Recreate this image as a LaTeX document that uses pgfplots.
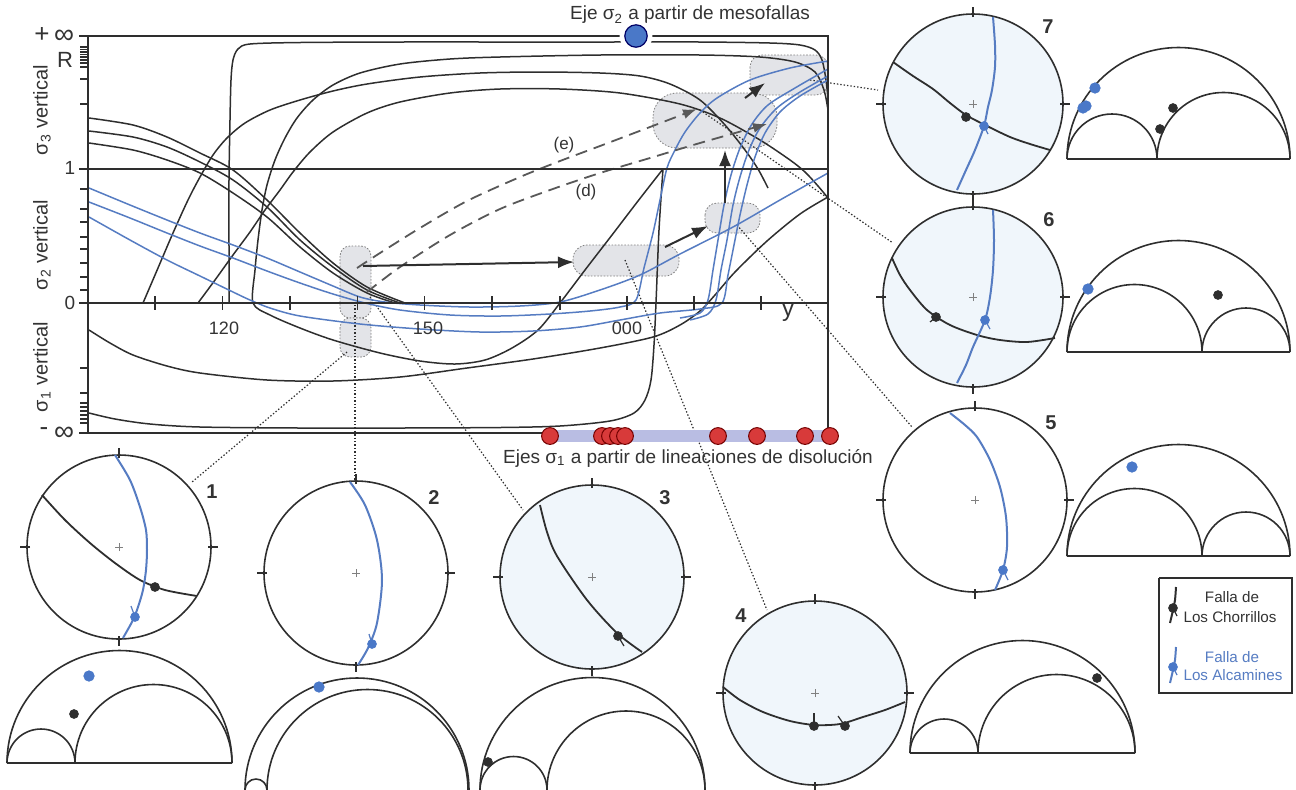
\documentclass[border=0pt]{standalone}
\usepackage{pgfplots}
\pgfplotsset{compat=1.18}
\usepackage{fontspec}
\setmainfont{Liberation Sans}
\usetikzlibrary{arrows.meta}
\definecolor{bc}{HTML}{567CC2}
\definecolor{kc}{HTML}{2E2E2E}
\definecolor{txc}{HTML}{333333}
\definecolor{boxc}{HTML}{E3E4E8}
\definecolor{netc}{HTML}{F0F6FB}
\definecolor{redc}{HTML}{D83A3A}
\definecolor{bandc}{HTML}{B9BDE3}
\definecolor{dotb}{HTML}{4A78C8}

\newcommand{\net}[4]{%
 \draw[kc, line width=0.8pt, fill=#4] (axis cs:#1,#2) circle[radius=#3pt];
 \draw[kc, line width=0.6pt] (axis cs:#1,#2) ++(0pt,#3pt-1.5pt) -- ++(0pt,5pt);
 \draw[kc, line width=0.6pt] (axis cs:#1,#2) ++(0pt,-#3pt+1.5pt) -- ++(0pt,-5pt);
 \draw[kc, line width=0.6pt] (axis cs:#1,#2) ++(#3pt-1.5pt,0pt) -- ++(5pt,0pt);
 \draw[kc, line width=0.6pt] (axis cs:#1,#2) ++(-#3pt+1.5pt,0pt) -- ++(-5pt,0pt);
 \draw[gray, line width=0.4pt] (axis cs:#1,#2) ++(-2pt,0pt) -- ++(4pt,0pt);
 \draw[gray, line width=0.4pt] (axis cs:#1,#2) ++(0pt,-2pt) -- ++(0pt,4pt);
}
\newcommand{\semi}[3]{% left x, base y, radius pt
 \draw[kc, line width=0.8pt] (axis cs:#1,#2) arc[start angle=180, end angle=0, radius=#3pt];
}

\begin{document}
\begin{tikzpicture}
\begin{axis}[
  scale only axis, width=648pt, height=394.5pt,
  xmin=0, xmax=1296, ymin=0, ymax=789, y dir=reverse,
  hide axis, clip=true,
  kl/.style={kc, line width=0.75pt, smooth, tension=0.5},
  bl/.style={bc, line width=0.75pt, smooth, tension=0.5},
  dl/.style={kc, line width=0.6pt, dash pattern=on 0.7pt off 1pt},
]
% bounding box
\addplot[draw=none] coordinates {(0,0) (1296,789)};

% grey boxes
\draw[gray, fill=boxc, dash pattern=on 0.8pt off 0.8pt, rounded corners=5pt] (axis cs:340,246) rectangle (axis cs:371,318);
\draw[gray, fill=boxc, dash pattern=on 0.8pt off 0.8pt, rounded corners=5pt] (axis cs:340,318) rectangle (axis cs:371,357);
\draw[gray, fill=boxc, dash pattern=on 0.8pt off 0.8pt, rounded corners=7pt] (axis cs:573,245) rectangle (axis cs:679,276);
\draw[gray, fill=boxc, dash pattern=on 0.8pt off 0.8pt, rounded corners=6pt] (axis cs:705,203) rectangle (axis cs:760,233);
\draw[gray, fill=boxc, dash pattern=on 0.8pt off 0.8pt, rounded corners=12pt] (axis cs:653,93) rectangle (axis cs:777,148);
\draw[gray, fill=boxc, dash pattern=on 0.8pt off 0.8pt, rounded corners=6pt] (axis cs:750,55) rectangle (axis cs:828,95);

% dotted connectors
\addplot[dl] coordinates {(347,352) (192,482)};
\addplot[dl] coordinates {(355,305) (355,482)};
\addplot[dl] coordinates {(370,297) (523,510)};
\addplot[dl] coordinates {(625,260) (767,610)};
\addplot[dl] coordinates {(737,225) (912,427)};
\addplot[dl] coordinates {(700,110) (893,243)};
\addplot[dl] coordinates {(810,80) (878,90)};

% black curves
\addplot[kl] coordinates {(229,303)(229,250)(229,180)(230,120)(231,80)(233,60)(238,49)(250,44)(300,42.5)(400,42)(500,42)(600,42)(700,42)(770,43)(800,45)(815,50)(822,60)(826,80)(828,100)};
\addplot[kl] coordinates {(143,303)(158,268)(173,233)(188,200)(200,177)(213,155)(227,138)(245,123)(270,110)(300,100)(333,91)(367,84)(420,77)(480,73)(540,72)(600,73)(640,76)(670,84)(700,100)(725,125)(745,150)(758,169)(768,188)};
\addplot[kl] coordinates {(198,303)(215,280)(233,255)(250,232)(265,210)(280,190)(293,172)(310,152)(333,132)(367,113)(400,102)(450,93)(500,89)(560,89)(620,93)(680,104)(720,118)(760,140)(790,160)(805,172)(818,186)(828,198)};
\addplot[kl] coordinates {(828,110)(824,90)(815,72)(795,62)(760,57)(700,55)(600,55)(500,57)(450,59)(400,64)(360,73)(333,85)(313,100)(297,118)(285,138)(275,160)(267,185)(262,210)(258,240)(255,270)(253,303)(270,315)(300,328)(333,340)(380,353)(420,361)(455,364)(485,360)(512,348)(538,330)(560,303)(585,270)(612,235)(638,201)(663,169)};
\addplot[kl] coordinates {(663,169)(659,230)(656,303)(654,345)(651,380)(645,400)(634,413)(610,421)(560,426)(500,427.5)(400,428)(300,428)(200,427)(150,424)(115,419)(89,413)};
\addplot[kl] coordinates {(89,330)(110,343)(133,355)(167,366)(200,373)(267,380)(333,381)(400,377)(467,368)(533,359)(600,348)(653,337)(680,325)(700,311)(715,295)(735,272)(767,241)(800,214)(828,197)};
\addplot[kl] coordinates {(89,118)(133,125)(167,137)(200,153)(233,170)(267,200)(300,233)(333,263)(367,287)(405,303)};
\addplot[kl] coordinates {(89,131)(133,137)(167,147)(200,162)(233,180)(267,207)(300,240)(333,267)(367,290)(400,303)};
\addplot[kl] coordinates {(89,143)(133,150)(167,160)(200,173)(233,193)(267,217)(300,247)(333,273)(367,293)(395,303)};

% blue curves
\addplot[bl] coordinates {(89,188)(130,205)(167,220)(200,233)(233,245)(267,258)(300,272)(333,286)(360,297)(385,302)(420,305)(470,307)(520,306)(560,302)(600,290)(640,275)(680,254)(733,227)(780,200)(828,173)};
\addplot[bl] coordinates {(89,202)(130,218)(167,233)(200,246)(233,258)(267,271)(300,283)(333,294)(365,303)(400,310)(450,315)(500,316)(550,314)(590,311)(620,307)(636,300)(644,268)(653,233)(660,200)(667,168)(675,150)(685,132)(700,113)(717,98)(750,80)(790,68)(828,61)};
\addplot[bl] coordinates {(89,217)(130,240)(167,260)(200,276)(233,292)(250,300)(270,308)(300,316)(360,324)(420,329)(480,332)(533,331)(580,327)(620,320)(660,313)(700,309)(722,303)(728,275)(734,245)(740,215)(747,185)(755,157)(765,133)(780,112)(800,96)(828,80)};
\addplot[bl] coordinates {(680,318)(700,313)(708,300)(713,270)(718,240)(724,205)(731,175)(740,148)(752,124)(768,105)(795,88)(828,69)};
\addplot[bl] coordinates {(690,320)(708,314)(716,300)(721,270)(727,240)(733,205)(740,177)(749,150)(760,128)(777,108)(800,92)(828,76)};

% dashed (e) and (d)
\addplot[kc!80, line width=0.9pt, dash pattern=on 6pt off 3.5pt, smooth, -{Latex[length=7pt,width=5pt]}] coordinates {(357,268)(380,253)(420,228)(467,201)(520,177)(560,161)(600,146)(650,127)(697,109)};
\addplot[kc!80, line width=0.9pt, dash pattern=on 6pt off 3.5pt, smooth, -{Latex[length=7pt,width=5pt]}] coordinates {(367,292)(400,267)(450,235)(500,209)(550,190)(600,173)(650,158)(700,143)(767,124)};

% solid arrows
\addplot[kc, line width=1pt, -{Latex[length=8pt,width=6pt]}] coordinates {(363,266)(574,262)};
\addplot[kc, line width=1pt, -{Latex[length=8pt,width=6pt]}] coordinates {(665,247)(708,226)};
\addplot[kc, line width=1pt, -{Latex[length=8pt,width=6pt]}] coordinates {(725,203)(725,150)};
\addplot[kc, line width=1pt, -{Latex[length=8pt,width=6pt]}] coordinates {(745,98)(765,83)};

% frame and reference lines
\addplot[kc, line width=1.3pt] coordinates {(88,433)(88,36)(828,36)(828,433)(88,433)};
\addplot[kc, line width=1pt] coordinates {(88,169)(828,169)};
\addplot[kc, line width=1.1pt] coordinates {(88,303)(828,303)};
% left ticks
\addplot[kc, line width=0.7pt, unbounded coords=jump] coordinates {
(79,36)(88,36)(88,nan)(80,47)(88,47)(88,nan)(80,49.5)(88,49.5)(88,nan)(80,52)(88,52)(88,nan)(80,54.5)(88,54.5)(88,nan)
(80,57)(88,57)(88,nan)(80,60)(88,60)(88,nan)(80,63)(88,63)(88,nan)(80,67)(88,67)(88,nan)(80,79)(88,79)(88,nan)(80,104)(88,104)(88,nan)
(79,169)(88,169)(88,nan)(80,189)(88,189)(88,nan)(80,209)(88,209)(88,nan)(80,222)(88,222)(88,nan)(80,237)(88,237)(88,nan)
(80,249)(88,249)(88,nan)(80,263)(88,263)(88,nan)(80,277)(88,277)(88,nan)(80,290)(88,290)(88,nan)(79,303)(88,303)(88,nan)
(80,368)(88,368)(88,nan)(80,393)(88,393)(88,nan)(80,403)(88,403)(88,nan)(80,407)(88,407)(88,nan)(80,411)(88,411)(88,nan)
(80,415)(88,415)(88,nan)(80,419)(88,419)(88,nan)(80,423)(88,423)(88,nan)(79,433)(88,433)};
% x ticks
\addplot[kc, line width=0.9pt, unbounded coords=jump] coordinates {
(155,296)(155,310)(155,nan)(222.5,296)(222.5,310)(222.5,nan)(290,296)(290,310)(290,nan)(357.5,296)(357.5,310)(357.5,nan)
(424.5,296)(424.5,310)(424.5,nan)(492,296)(492,310)(492,nan)(560,296)(560,310)(560,nan)(627,296)(627,310)(627,nan)
(694,296)(694,310)(694,nan)(761,296)(761,310)};

% band and red dots
\addplot[bandc, line width=6pt] coordinates {(550,436)(830,436)};
\addplot[only marks, mark=*, mark size=4.2pt, mark options={fill=redc, draw=red!45!black, line width=0.5pt}] coordinates {(550,436)(602,436)(610,436)(618,436)(625,436)(718,436)(757,436)(805,436)(830,436)};
% blue dot at top
\addplot[only marks, mark=*, mark size=8pt, mark options={fill=white, draw=white}] coordinates {(636,36)};
\addplot[only marks, mark=*, mark size=5.6pt, mark options={fill=dotb, draw=blue!40!black, line width=0.6pt}] coordinates {(636,36)};

% ===== stereonets =====
\net{119}{547}{46}{white}
\net{356}{573}{46}{white}
\net{592}{577}{46}{netc}
\net{815}{693}{46}{netc}
\net{975}{500}{46}{white}
\net{973}{297}{45}{netc}
\net{973}{104}{45}{netc}

% net 1
\addplot[kl, line width=0.9pt] coordinates {(42,495)(65,520)(90,543)(115,563)(140,580)(165,590)(197,596)};
\addplot[bl, line width=1pt] coordinates {(115,455)(130,480)(140,507)(146,530)(147,550)(146,570)(143,590)(138,607)(133,620)(123,638)};
\addplot[kc, line width=0.6pt] coordinates {(150,584)(155,590)};
\addplot[bc, line width=0.6pt] coordinates {(131,606)(135,617)};
\addplot[only marks, mark=*, mark size=2.2pt, kc] coordinates {(155,587)};
\addplot[only marks, mark=*, mark size=2.2pt, dotb] coordinates {(135,617)};
% net 2
\addplot[bl, line width=1pt] coordinates {(350,482)(365,505)(377,540)(382,580)(377,623)(368,648)(358,665)};
\addplot[bc, line width=0.6pt] coordinates {(369,634)(372,644)};
\addplot[only marks, mark=*, mark size=2.2pt, dotb] coordinates {(372,644)};
% net 3
\addplot[kl, line width=0.9pt] coordinates {(540,505)(547,532)(557,556)(587,600)(617,633)(642,652)};
\addplot[kc, line width=0.6pt] coordinates {(618,636)(624,646)};
\addplot[only marks, mark=*, mark size=2.2pt, kc] coordinates {(618,636)};
% net 4
\addplot[kl, line width=0.9pt] coordinates {(723,687)(740,700)(763,712)(790,721)(815,725)(840,724)(863,717)(885,710)(905,702)};
\addplot[kc, line width=0.6pt] coordinates {(814,713)(814,726)};
\addplot[kc, line width=0.6pt] coordinates {(838,716)(845,726)};
\addplot[only marks, mark=*, mark size=2.2pt, kc] coordinates {(814,726)(845,726)};
% net 5
\addplot[bl, line width=1pt] coordinates {(950,413)(965,425)(977,437)(990,460)(1000,487)(1006,517)(1007,547)(1003,570)(995,590)};
\addplot[bc, line width=0.6pt] coordinates {(1003,570)(1008,580)};
\addplot[only marks, mark=*, mark size=2.2pt, dotb] coordinates {(1003,570)};
% net 6
\addplot[kl, line width=0.9pt] coordinates {(892,258)(900,275)(910,290)(927,310)(950,325)(977,335)(1000,340)(1027,342)(1055,338)};
\addplot[bl, line width=1pt] coordinates {(993,210)(994,240)(993,270)(990,297)(985,320)(973,347)(966,365)(957,383)};
\addplot[kc, line width=0.6pt] coordinates {(930,322)(936,317)};
\addplot[bc, line width=0.6pt] coordinates {(985,320)(990,329)};
\addplot[only marks, mark=*, mark size=2.2pt, kc] coordinates {(936,317)};
\addplot[only marks, mark=*, mark size=2.2pt, dotb] coordinates {(985,320)};
% net 7
\addplot[kl, line width=0.9pt] coordinates {(893,62)(913,76)(933,89)(950,103)(966,115)(985,125)(1010,137)(1030,144)(1050,150)};
\addplot[bl, line width=1pt] coordinates {(993,17)(995,45)(995,67)(992,90)(988,107)(984,126)(975,150)(966,170)(957,190)};
\addplot[bc, line width=0.6pt] coordinates {(984,126)(988,134)};
\addplot[only marks, mark=*, mark size=2.2pt, kc] coordinates {(966,117)};
\addplot[only marks, mark=*, mark size=2.2pt, dotb] coordinates {(984,126)};

% ===== Mohr diagrams =====
% 7
\addplot[kc, line width=0.8pt] coordinates {(1067,159)(1290,159)};
\semi{1067}{159}{55.75}\semi{1067}{159}{22.5}\semi{1157}{159}{33.25}
\addplot[only marks, mark=*, mark size=2.6pt, dotb] coordinates {(1095,88)(1083,108)(1086,106)};
\addplot[only marks, mark=*, mark size=2.2pt, kc] coordinates {(1173,108)(1160,129)};
% 6
\addplot[kc, line width=0.8pt] coordinates {(1067,352)(1290,352)};
\semi{1067}{352}{55.75}\semi{1067}{352}{33.75}\semi{1202}{352}{22}
\addplot[only marks, mark=*, mark size=2.6pt, dotb] coordinates {(1088,289)};
\addplot[only marks, mark=*, mark size=2.2pt, kc] coordinates {(1218,295)};
% 5
\addplot[kc, line width=0.8pt] coordinates {(1067,556)(1290,556)};
\semi{1067}{556}{55.75}\semi{1067}{556}{33.75}\semi{1202}{556}{22}
\addplot[only marks, mark=*, mark size=2.6pt, dotb] coordinates {(1132,467)};
% 4
\addplot[kc, line width=0.8pt] coordinates {(910,753)(1135,753)};
\semi{910}{753}{56.25}\semi{910}{753}{17}\semi{978}{753}{39.25}
\addplot[only marks, mark=*, mark size=2.2pt, kc] coordinates {(1097,678)};
% 1
\addplot[kc, line width=0.8pt] coordinates {(7,763)(232,763)};
\semi{7}{763}{56.25}\semi{7}{763}{17}\semi{75}{763}{39.25}
\addplot[only marks, mark=*, mark size=2.6pt, dotb] coordinates {(89,676)};
\addplot[only marks, mark=*, mark size=2.2pt, kc] coordinates {(74,714)};
% 2
\semi{245}{790}{56}\semi{267}{790}{50.25}\semi{245}{790}{5.5}
\addplot[only marks, mark=*, mark size=2.6pt, dotb] coordinates {(319,687)};
% 3
\semi{480}{790}{56.25}\semi{480}{790}{16.75}\semi{547}{790}{39.5}
\addplot[only marks, mark=*, mark size=2.2pt, kc] coordinates {(488,762)};

% ===== legend box =====
\addplot[kc, line width=1pt] coordinates {(1159,578)(1292,578)(1292,693)(1159,693)(1159,578)};
\addplot[kl, line width=1pt] coordinates {(1176,587)(1175,600)(1173,610)(1170,623)};
\addplot[kc, line width=0.6pt] coordinates {(1173,608)(1177,616)};
\addplot[only marks, mark=*, mark size=2.2pt, kc] coordinates {(1173,608)};
\addplot[bl, line width=1pt] coordinates {(1176,647)(1175,660)(1173,670)(1170,683)};
\addplot[bc, line width=0.6pt] coordinates {(1173,667)(1177,675)};
\addplot[only marks, mark=*, mark size=2.2pt, dotb] coordinates {(1173,667)};

% ===== texts =====
\node[text=txc, font=\fontsize{9.5}{11}\selectfont] at (axis cs:690,15) {Eje σ\textsubscript{2} a partir de mesofallas};
\node[text=txc, font=\fontsize{9.5}{11}\selectfont] at (axis cs:688,458) {Ejes σ\textsubscript{1} a partir de lineaciones de disolución};
\node[text=txc, font=\fontsize{13}{13}\selectfont, inner sep=0pt] at (axis cs:42,35) {+};
\node[text=txc, font=\fontsize{14}{14}\selectfont, inner sep=0pt] at (axis cs:64,37) {∞};
\node[text=txc, font=\fontsize{13}{13}\selectfont, inner sep=0pt] at (axis cs:44,432) {-};
\node[text=txc, font=\fontsize{14}{14}\selectfont, inner sep=0pt] at (axis cs:64,434) {∞};
\node[text=txc, font=\fontsize{11}{12}\selectfont, inner sep=0pt] at (axis cs:65,60) {R};
\node[text=txc, font=\fontsize{9.5}{11}\selectfont] at (axis cs:70,168) {1};
\node[text=txc, font=\fontsize{9.5}{11}\selectfont] at (axis cs:70,303) {0};
\node[text=txc, font=\fontsize{10}{11}\selectfont, rotate=90] at (axis cs:42,110) {σ\textsubscript{3} vertical};
\node[text=txc, font=\fontsize{10}{11}\selectfont, rotate=90] at (axis cs:42,245) {σ\textsubscript{2} vertical};
\node[text=txc, font=\fontsize{10}{11}\selectfont, rotate=90] at (axis cs:42,367) {σ\textsubscript{1} vertical};
\node[text=txc, font=\fontsize{9}{10}\selectfont] at (axis cs:224,328) {120};
\node[text=txc, font=\fontsize{9}{10}\selectfont] at (axis cs:428,328) {150};
\node[text=txc, font=\fontsize{9}{10}\selectfont] at (axis cs:627,328) {000};
\node[text=txc, font=\fontsize{12}{12}\selectfont] at (axis cs:788,313) {y};
\node[text=txc, font=\fontsize{8.5}{9}\selectfont] at (axis cs:564,145) {(e)};
\node[text=txc, font=\fontsize{8.5}{9}\selectfont] at (axis cs:586,192) {(d)};
% net numbers
\node[text=txc, font=\bfseries\fontsize{10}{11}\selectfont] at (axis cs:212,492) {1};
\node[text=txc, font=\bfseries\fontsize{10}{11}\selectfont] at (axis cs:434,498) {2};
\node[text=txc, font=\bfseries\fontsize{10}{11}\selectfont] at (axis cs:665,498) {3};
\node[text=txc, font=\bfseries\fontsize{10}{11}\selectfont] at (axis cs:741,616) {4};
\node[text=txc, font=\bfseries\fontsize{10}{11}\selectfont] at (axis cs:1051,423) {5};
\node[text=txc, font=\bfseries\fontsize{10}{11}\selectfont] at (axis cs:1049,220) {6};
\node[text=txc, font=\bfseries\fontsize{10}{11}\selectfont] at (axis cs:1048,27) {7};
% legend texts
\node[text=txc, font=\fontsize{7.6}{8}\selectfont] at (axis cs:1232,597) {Falla de};
\node[text=txc, font=\fontsize{7.6}{8}\selectfont] at (axis cs:1230,617) {Los Chorrillos};
\node[text=bc, font=\fontsize{7.6}{8}\selectfont] at (axis cs:1232,657) {Falla de};
\node[text=bc, font=\fontsize{7.6}{8}\selectfont] at (axis cs:1233,675) {Los Alcamines};
\end{axis}
\end{tikzpicture}
\end{document}
